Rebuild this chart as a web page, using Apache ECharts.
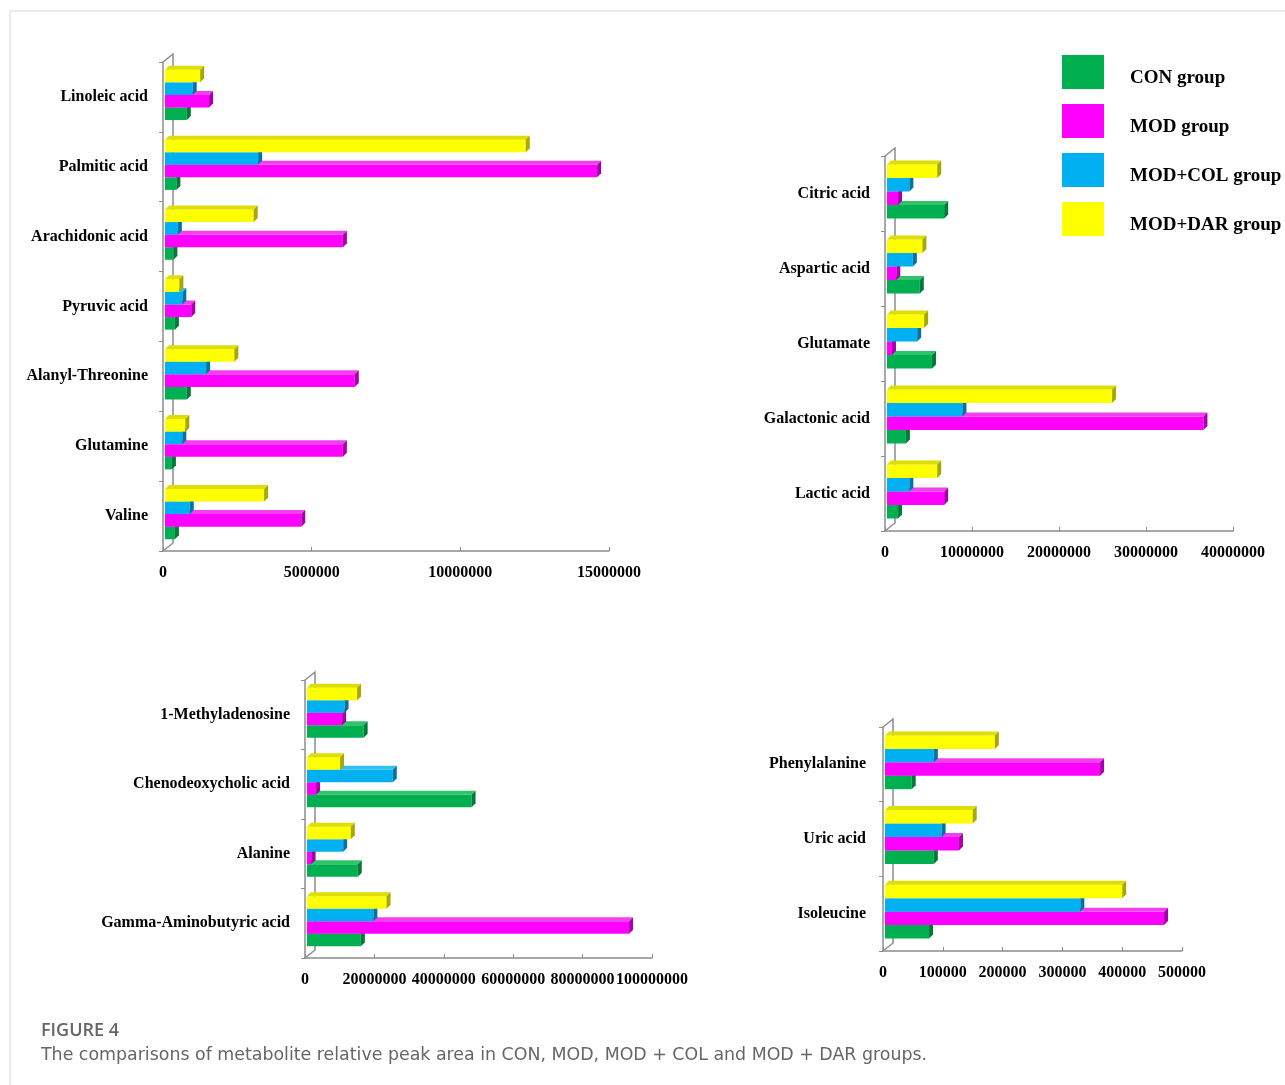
<!DOCTYPE html>
<html>
<head>
<meta charset="utf-8">
<script src="https://cdn.jsdelivr.net/npm/echarts@6/dist/echarts.min.js"></script>
<style>
  html, body { margin: 0; background: #fff; }
  #chart { width: 1285px; height: 1085px; }
</style>
</head>
<body>
<div id="chart"></div>
<script>
const groupNames = ["CON group", "MOD group", "MOD+COL group", "MOD+DAR group"];

// panel 1 (categories listed bottom to top)
const cats1 = ["Valine", "Glutamine", "Alanyl-Threonine", "Pyruvic acid", "Arachidonic acid", "Palmitic acid", "Linoleic acid"];
const con1 = [400000, 300000, 800000, 400000, 350000, 450000, 800000];
const mod1 = [4650000, 6050000, 6450000, 950000, 6050000, 14600000, 1550000];
const col1 = [900000, 650000, 1450000, 650000, 500000, 3200000, 1000000];
const dar1 = [3400000, 750000, 2400000, 550000, 3050000, 12200000, 1250000];

// panel 2
const cats2 = ["Lactic acid", "Galactonic acid", "Glutamate", "Aspartic acid", "Citric acid"];
const con2 = [1500000, 2400000, 5400000, 4000000, 6800000];
const mod2 = [6800000, 36600000, 800000, 1300000, 1500000];
const col2 = [2800000, 8900000, 3700000, 3200000, 2800000];
const dar2 = [6000000, 26100000, 4500000, 4300000, 6000000];

// panel 3
const cats3 = ["Gamma-Aminobutyric acid", "Alanine", "Chenodeoxycholic acid", "1-Methyladenosine"];
const con3 = [16100000, 15200000, 48000000, 16900000];
const mod3 = [93400000, 1800000, 3200000, 10700000];
const col3 = [19700000, 11000000, 25300000, 11400000];
const dar3 = [23500000, 13200000, 10100000, 15000000];

// panel 4
const cats4 = ["Isoleucine", "Uric acid", "Phenylalanine"];
const con4 = [77000, 85000, 48000];
const mod4 = [470000, 127000, 363000];
const col4 = [330000, 98000, 85000];
const dar4 = [400000, 150000, 187000];

const axisMax = [15000000, 40000000, 100000000, 500000];
const axisStep = [5000000, 10000000, 20000000, 100000];

const panels = [
  { cats: cats1, groups: [con1, mod1, col1, dar1], left: 163, top: 62, width: 446, height: 489, margin: 15 },
  { cats: cats2, groups: [con2, mod2, col2, dar2], left: 885, top: 156, width: 348, height: 375, margin: 15 },
  { cats: cats3, groups: [con3, mod3, col3, dar3], left: 305, top: 680, width: 347, height: 278, margin: 15 },
  { cats: cats4, groups: [con4, mod4, col4, dar4], left: 883, top: 727, width: 299, height: 224, margin: 17 },
];

const faces = [
  { front: "#00B050", top: "#2fc46a", side: "#007a36" },
  { front: "#FF00FF", top: "#f040f0", side: "#a800a8" },
  { front: "#00B0F0", top: "#30c0f4", side: "#0075a5" },
  { front: "#FFFF00", top: "#dede00", side: "#a8a800" },
];

const axisGray = "#8c8c8c";
const serif = "'Liberation Serif', 'DejaVu Serif', serif";
const depth = 4;

function makeBar(k) {
  return function (params, api) {
    const cat = api.value(1);
    const start = api.coord([0, cat]);
    const end = api.coord([api.value(0), cat]);
    const band = api.size([0, 1])[1];
    const h = band * 0.18;
    const y = start[1] + (1 - k) * h - 2;
    const x0 = start[0] + 2;
    const x1 = Math.max(end[0], x0 + 1);
    const c = faces[k];
    return {
      type: "group",
      children: [
        { type: "rect", shape: { x: x0, y: y, width: x1 - x0, height: h }, style: { fill: c.front } },
        {
          type: "polygon",
          shape: { points: [[x0, y], [x0 + depth, y - depth], [x1 + depth, y - depth], [x1, y]] },
          style: { fill: c.top },
        },
        {
          type: "polygon",
          shape: { points: [[x1, y], [x1 + depth, y - depth], [x1 + depth, y + h - depth], [x1, y + h]] },
          style: { fill: c.side },
        },
      ],
    };
  };
}

const grid = [];
const xAxis = [];
const yAxis = [];
const series = [];
const graphic = [
  { type: "line", shape: { x1: 10, y1: 11, x2: 1285, y2: 11 }, style: { stroke: "#d6d6d6", lineWidth: 1 } },
  { type: "line", shape: { x1: 10, y1: 11, x2: 10, y2: 1085 }, style: { stroke: "#d6d6d6", lineWidth: 1 } },
];

panels.forEach((p, i) => {
  grid.push({ left: p.left, top: p.top, width: p.width, height: p.height });
  xAxis.push({
    type: "value",
    gridIndex: i,
    min: 0,
    max: axisMax[i],
    interval: axisStep[i],
    axisLine: { show: true, lineStyle: { color: axisGray, width: 1.5 } },
    axisTick: { show: true, inside: true, length: 4, lineStyle: { color: axisGray } },
    splitLine: { show: false },
    axisLabel: {
      fontFamily: serif,
      fontWeight: "bold",
      fontSize: 16,
      color: "#000",
      margin: 14,
      hideOverlap: false,
      showMaxLabel: true,
      showMinLabel: true,
      formatter: (v) => String(v),
    },
  });
  yAxis.push({
    type: "category",
    gridIndex: i,
    data: p.cats,
    axisLine: { show: true, lineStyle: { color: axisGray, width: 1.5 } },
    axisTick: { show: true, length: 4, lineStyle: { color: axisGray } },
    axisLabel: { fontFamily: serif, fontWeight: "bold", fontSize: 16, color: "#000", margin: p.margin },
  });
  p.groups.forEach((vals, k) => {
    series.push({
      type: "custom",
      name: groupNames[k],
      xAxisIndex: i,
      yAxisIndex: i,
      data: vals.map((v, j) => [v, j]),
      encode: { x: 0, y: 1 },
      renderItem: makeBar(k),
      itemStyle: { color: faces[k].front },
      z: 3 + k,
    });
  });
  // back wall of the 3D plot
  const b = p.top + p.height;
  graphic.push({
    type: "polyline",
    z: 1,
    shape: {
      points: [
        [p.left, p.top],
        [p.left + 10, p.top - 8],
        [p.left + 10, b - 8],
        [p.left, b],
      ],
    },
    style: { stroke: axisGray, lineWidth: 1.5, fill: null },
  });
});

// legend: swatches and labels are split so the labels can sit a little lower
const legendBase = {
  orient: "vertical",
  left: 1062,
  padding: 0,
  itemWidth: 42,
  itemHeight: 34,
  itemGap: 15,
  icon: "rect",
  data: groupNames,
};

const chart = echarts.init(document.getElementById("chart"));
chart.setOption({
  animation: false,
  backgroundColor: "#fff",
  title: [
    {
      text: "FIGURE 4",
      left: 41,
      top: 1022,
      padding: 0,
      textStyle: { fontFamily: "'Open Sans', sans-serif", fontWeight: 600, fontSize: 18, color: "#666" },
    },
    {
      text: "The comparisons of metabolite relative peak area in CON, MOD, MOD + COL and MOD + DAR groups.",
      left: 41,
      top: 1047,
      padding: 0,
      textStyle: { fontFamily: "'DejaVu Sans', sans-serif", fontWeight: "normal", fontSize: 17.4, color: "#666" },
    },
  ],
  legend: [
    Object.assign({}, legendBase, {
      top: 55,
      textStyle: { fontSize: 19, color: "rgba(0,0,0,0)", padding: [0, 0, 0, 21] },
    }),
    Object.assign({}, legendBase, {
      top: 61,
      itemStyle: { opacity: 0 },
      textStyle: { fontFamily: serif, fontWeight: "bold", fontSize: 19, color: "#000", padding: [0, 0, 0, 21] },
    }),
  ],
  grid: grid,
  xAxis: xAxis,
  yAxis: yAxis,
  series: series,
  graphic: graphic,
});
</script>
</body>
</html>
